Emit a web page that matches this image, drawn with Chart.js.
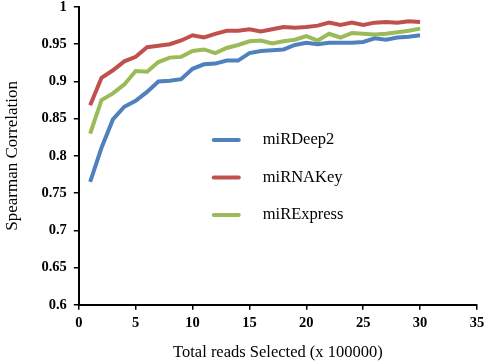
<!DOCTYPE html>
<html>
<head>
<meta charset="utf-8">
<script src="https://cdn.jsdelivr.net/npm/chart.js@4/dist/chart.umd.min.js"></script>
<style>
html,body{margin:0;padding:0;background:#fff;}
#wrap{width:488px;height:364px;position:relative;}
</style>
</head>
<body>
<div id="wrap"><canvas id="c" width="488" height="364"></canvas></div>
<script>
const readsSelected = [1,2,3,4,5,6,7,8,9,10,11,12,13,14,15,16,17,18,19,20,21,22,23,24,25,26,27,28,29,30];
const miRDeep2 = [0.765,0.811,0.849,0.866,0.874,0.886,0.900,0.901,0.903,0.917,0.923,0.924,0.928,0.928,0.938,0.941,0.942,0.943,0.949,0.952,0.950,0.952,0.952,0.952,0.953,0.958,0.956,0.959,0.960,0.962];
const miRNAKey = [0.868,0.905,0.915,0.927,0.933,0.946,0.948,0.950,0.955,0.962,0.959,0.964,0.968,0.968,0.970,0.967,0.970,0.973,0.972,0.973,0.975,0.979,0.976,0.979,0.976,0.979,0.980,0.979,0.981,0.980];
const miRExpress = [0.830,0.875,0.884,0.896,0.914,0.913,0.926,0.932,0.933,0.941,0.943,0.938,0.945,0.949,0.954,0.955,0.951,0.954,0.956,0.961,0.955,0.964,0.959,0.965,0.964,0.963,0.964,0.966,0.968,0.971];
const seriesNames = ['miRDeep2','miRNAKey','miRExpress'];
const seriesColors = ['#4F81BD','#C0504D','#9BBB59'];
const xTicks = [0,5,10,15,20,25,30,35];
const yTicks = [0.6,0.65,0.7,0.75,0.8,0.85,0.9,0.95,1];

const allSeries = [miRDeep2, miRNAKey, miRExpress];
const datasets = allSeries.map((vals,i)=>({
  label: seriesNames[i],
  data: readsSelected.map((x,j)=>({x:x,y:vals[j]})),
  borderColor: seriesColors[i],
  backgroundColor: seriesColors[i],
  borderWidth: 4,
  pointRadius: 0,
  tension: 0,
  fill: false
}));

const innerLegend = {
  id:'innerLegend',
  afterDatasetsDraw(chart){
    const ctx = chart.ctx;
    const ca = chart.chartArea;
    const x0 = ca.left + 135, x1 = ca.left + 160, tx = ca.left + 184;
    const y0 = ca.top + 133, dy = 37.5;
    ctx.save();
    ctx.font = '16.5px "Liberation Serif", "Times New Roman", serif';
    ctx.textBaseline = 'middle';
    ctx.fillStyle = '#000';
    chart.data.datasets.forEach((ds,i)=>{
      const y = y0 + i*dy;
      ctx.strokeStyle = ds.borderColor;
      ctx.lineWidth = 4;
      ctx.lineCap = 'round';
      ctx.beginPath(); ctx.moveTo(x0,y); ctx.lineTo(x1,y); ctx.stroke();
      ctx.fillText(ds.label, tx, y);
    });
    ctx.restore();
  }
};

new Chart(document.getElementById('c'), {
  type:'line',
  data:{datasets:datasets},
  options:{
    responsive:false,
    animation:false,
    layout:{padding:{left:2,right:11,top:7,bottom:1}},
    plugins:{legend:{display:false},tooltip:{enabled:false}},
    scales:{
      x:{
        type:'linear', min:0, max:35,
        afterBuildTicks(axis){ axis.ticks = xTicks.map(v=>({value:v})); },
        afterFit(axis){ axis.paddingRight = 0; },
        grid:{drawOnChartArea:false, drawTicks:true, tickLength:5, color:'#000', lineWidth:1.5},
        border:{color:'#000', width:2},
        ticks:{color:'#000', font:{family:'"Liberation Serif", serif', size:14.5, weight:'bold'}, padding:5, maxRotation:0},
        title:{display:true, text:'Total reads Selected (x 100000)', color:'#000', font:{family:'"Liberation Serif", serif', size:16.5}, padding:{top:6,bottom:0}}
      },
      y:{
        type:'linear', min:0.6, max:1,
        afterBuildTicks(axis){ axis.ticks = yTicks.map(v=>({value:v})); },
        afterFit(axis){ axis.paddingTop = 0; axis.paddingBottom = 0; },
        grid:{drawOnChartArea:false, drawTicks:true, tickLength:5, color:'#000', lineWidth:1.5},
        border:{color:'#000', width:2},
        ticks:{color:'#000', font:{family:'"Liberation Serif", serif', size:14.5, weight:'bold'}, padding:7,
          callback:(v)=>String(+(+v).toFixed(2))},
        title:{display:true, text:'Spearman Correlation', color:'#000', font:{family:'"Liberation Serif", serif', size:17}, padding:{top:0,bottom:12}}
      }
    }
  },
  plugins:[innerLegend]
});
</script>
</body>
</html>
